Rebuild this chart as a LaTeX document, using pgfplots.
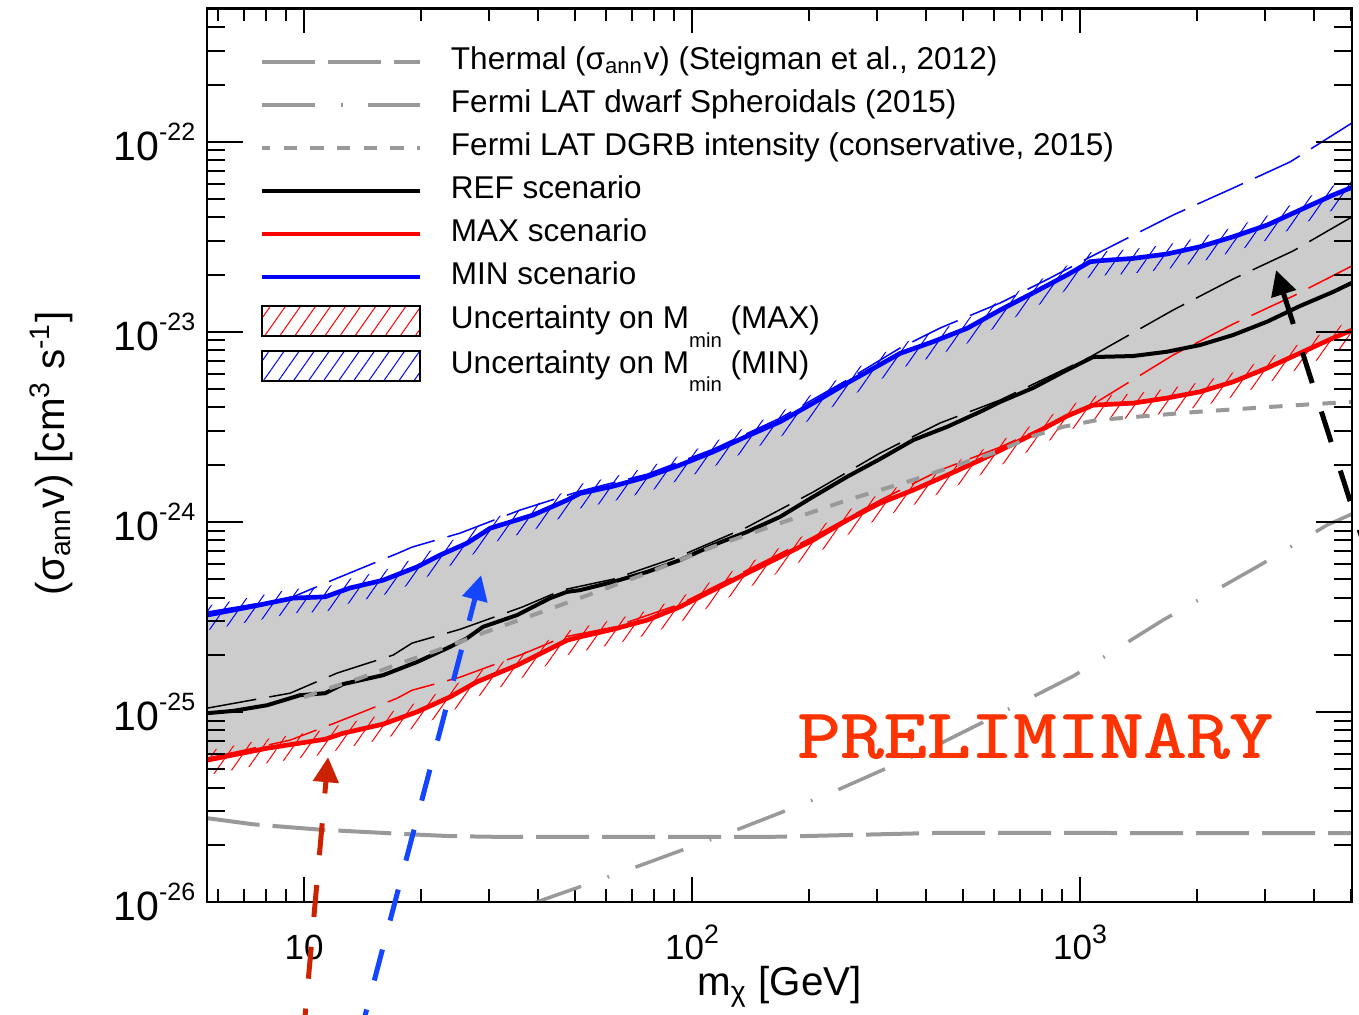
\documentclass[border=0pt]{standalone}
\usepackage{fontspec}
\setmainfont{Liberation Sans}
\usepackage{pgfplots}
\usepackage{pgfplotstable}
\pgfplotsset{compat=1.18}
\usepgfplotslibrary{fillbetween}
\usetikzlibrary{patterns.meta,arrows.meta}

\definecolor{lgray}{RGB}{153,153,153}
\definecolor{bandgray}{RGB}{204,204,204}
\definecolor{prelimred}{RGB}{255,51,0}
\definecolor{arrred}{RGB}{204,34,0}
\definecolor{arrblue}{RGB}{20,70,255}

\newcommand\xsup[1]{\raisebox{5pt}{\fontsize{8}{9}\selectfont #1}}
\newcommand\ysup[1]{\raisebox{6pt}{\fontsize{7.5}{8}\selectfont #1}}
\newcommand\msub[1]{\raisebox{-5.5pt}{\fontsize{6.1}{7}\selectfont #1}}
\newcommand\prelimtext{\scalebox{1.2}[1.0]{\fontsize{21}{24}\selectfont\ttfamily PRELIMINARY}}
\tikzset{hatchp/.style={pattern={Lines[angle=55,distance=3.7pt,line width=0.3pt]}}}

% MIN scenario (blue)
\pgfplotstableread{
x y
5.62 3.23e-25
7.26 3.57e-25
9.37 3.97e-25
11.33 4.03e-25
13.1 4.48e-25
15.98 4.93e-25
19.55 5.79e-25
22.4 6.68e-25
26.3 7.72e-25
30.2 9.26e-25
38.9 1.085e-24
47.6 1.30e-24
51.4 1.41e-24
62.6 1.54e-24
76.6 1.725e-24
93.1 1.99e-24
113.3 2.335e-24
138.7 2.825e-24
168.6 3.36e-24
205 4.21e-24
250.9 5.37e-24
343.7 7.69e-24
417.9 8.86e-24
511.4 1.042e-23
622 1.30e-23
756.7 1.60e-23
925.8 1.99e-23
1061 2.335e-23
1126 2.365e-23
1369 2.43e-23
1676 2.565e-23
2038 2.80e-23
2480 3.16e-23
3034 3.64e-23
3690 4.37e-23
4489 5.24e-23
5023 5.75e-23
}\minT

% REF scenario (black)
\pgfplotstableread{
x y
5.62 9.84e-26
6.56 1.012e-25
8.03 1.084e-25
9.77 1.224e-25
11.33 1.254e-25
12.6 1.40e-25
15.98 1.56e-25
19.55 1.83e-25
23.8 2.20e-25
26.3 2.44e-25
28.9 2.80e-25
35.4 3.23e-25
43.1 3.97e-25
47.6 4.28e-25
51.4 4.37e-25
62.6 4.83e-25
76.6 5.45e-25
93.1 6.29e-25
113.3 7.54e-25
138.7 8.86e-25
168.6 1.062e-24
205 1.353e-24
250.9 1.725e-24
305.2 2.14e-24
371.2 2.69e-24
454.2 3.16e-24
552.5 3.79e-24
622 4.27e-24
756.7 5.06e-24
925.8 6.29e-24
1080 7.36e-24
1369 7.45e-24
1676 7.85e-24
2038 8.51e-24
2480 9.61e-24
3034 1.129e-23
3690 1.366e-23
4489 1.62e-23
5023 1.81e-23
}\refT

% MAX scenario (red)
\pgfplotstableread{
x y
5.62 5.57e-26
8.03 6.44e-26
11.33 7.18e-26
12.6 7.72e-26
15.98 8.62e-26
19.55 1.0e-25
23.8 1.20e-25
27.9 1.44e-25
35.4 1.76e-25
47.6 2.38e-25
51.4 2.48e-25
62.6 2.72e-25
76.6 3.04e-25
93.1 3.57e-25
113.3 4.37e-25
138.7 5.37e-25
168.6 6.54e-25
205 8.01e-25
250.9 1.02e-24
305.2 1.254e-24
371.2 1.468e-24
454.2 1.76e-24
552.5 2.11e-24
672 2.565e-24
756.7 2.89e-24
925.8 3.60e-24
1080 4.11e-24
1369 4.21e-24
1676 4.48e-24
2038 4.83e-24
2480 5.45e-24
3034 6.44e-24
3690 7.72e-24
4489 9.26e-24
5023 1.02e-23
}\maxT

% thin dashed companions
\pgfplotstableread{
x y
5.62 1.046e-25
9.2 1.254e-25
12.16 1.60e-25
16.96 1.99e-25
18.98 2.30e-25
25.24 2.72e-25
36.5 3.56e-25
46.2 4.37e-25
62.6 4.99e-25
93.1 6.60e-25
138.7 9.38e-25
205 1.433e-24
305.2 2.30e-24
435.8 3.31e-24
622 4.37e-24
837 5.84e-24
1061 7.36e-24
1737 1.30e-23
2480 1.894e-23
3540 2.66e-23
5023 4.02e-23
}\refD

\pgfplotstableread{
x y
5.62 5.70e-26
9.2 7.10e-26
12.16 8.83e-26
17.37 1.18e-25
18.98 1.30e-25
25.24 1.523e-25
36.5 2.01e-25
46.5 2.47e-25
62.6 2.79e-25
93.1 3.69e-25
138.7 5.57e-25
205 8.31e-25
305.2 1.30e-24
435.8 1.87e-24
622 2.47e-24
1061 4.06e-24
1737 7.54e-24
2480 1.098e-23
3540 1.54e-23
5023 2.22e-23
}\maxD

\pgfplotstableread{
x y
5.62 3.35e-25
9.2 3.97e-25
12.16 5.05e-25
17.47 6.84e-25
18.98 7.36e-25
25.24 8.72e-25
36.0 1.152e-24
51.4 1.45e-24
76.6 1.78e-24
113.3 2.41e-24
168.6 3.51e-24
250.9 5.57e-24
343.7 8.21e-24
435.8 1.046e-23
622 1.416e-23
837 1.917e-23
1061 2.47e-23
1737 4.11e-23
2480 5.70e-23
3477 7.82e-23
5023 1.254e-22
}\minD

% Fermi LAT DGRB
\pgfplotstableread{
x y
10 1.195e-25
11.88 1.353e-25
13.94 1.505e-25
17.68 1.80e-25
21.5 2.07e-25
25.24 2.335e-25
28.9 2.60e-25
38.9 3.23e-25
52.4 4.03e-25
76.6 5.37e-25
113.3 7.39e-25
168.6 9.84e-25
250.9 1.30e-24
371.2 1.66e-24
499.4 2.04e-24
611 2.335e-24
756.7 2.825e-24
904 3.16e-24
1106 3.43e-24
2002 3.79e-24
3625 4.11e-24
5023 4.28e-24
}\dgrbT

% Thermal
\pgfplotstableread{
x y
5.62 2.76e-26
7.41 2.56e-26
11.03 2.40e-26
18.76 2.27e-26
23.8 2.22e-26
32.0 2.20e-26
158.9 2.20e-26
435.8 2.31e-26
5023 2.30e-26
}\thermT

% Fermi LAT dSph
\pgfplotstableread{
x y
38.9 9.84e-27
68.0 1.468e-26
123.8 2.30e-26
224.1 3.69e-26
403.4 6.29e-26
562.3 8.83e-26
959.4 1.54e-25
1636 3.04e-25
2910 5.92e-25
4331 9.61e-25
5023 1.10e-24
}\dsphT

\begin{document}
\begin{tikzpicture}
\begin{axis}[
  name=A,
  scale only axis, width=343.5pt, height=268.1pt,
  xmode=log, ymode=log,
  xmin=5.62, xmax=5023, ymin=1e-26, ymax=5.03e-22,
  xtick={10,100,1000},
  xticklabels={10,10\xsup{2},10\xsup{3}},
  minor xtick={6,7,8,9,20,30,40,50,60,70,80,90,200,300,400,500,600,700,800,900,2000,3000,4000,5000},
  ytick=\empty,
  major tick length=7.5pt, minor tick length=3.8pt,
  tick style={black, line width=0.6pt},
  axis line style={line width=0.8pt},
  xticklabel style={font=\fontsize{10.5}{12}\selectfont, anchor=base, yshift=-17.4pt},
  xlabel={m\textsubscript{χ} [GeV]},
  xlabel style={font=\fontsize{12.1}{14}\selectfont, at={(axis description cs:0.5,-0.105)}, anchor=base},
  legend style={draw=none, fill=none, at={(0.0463,0.9564)}, anchor=north west,
    inner sep=0pt, outer sep=0pt, font=\fontsize{9.45}{11}\selectfont,
    row sep=3.9pt, column sep=8.7pt,
    nodes={inner sep=0pt, text height=6.8pt, text depth=2.2pt}},
  legend cell align=left,
  legend image code/.code={\draw[#1] (0pt,0pt) -- (47.4pt,0pt);},
]
\addlegendimage{lgray, line width=1.2pt, dash pattern=on 15.9pt off 3.9pt}
\addlegendentry{Thermal (σ\textsubscript{ann}v) (Steigman et al., 2012)}
\addlegendimage{lgray, line width=1.1pt, dash pattern=on 15.9pt off 7.8pt on 0.6pt off 7.5pt}
\addlegendentry{Fermi LAT dwarf Spheroidals (2015)}
\addlegendimage{lgray, line width=1.2pt, dash pattern=on 4pt off 4pt, dash phase=1.5pt}
\addlegendentry{Fermi LAT DGRB intensity (conservative, 2015)}
\addlegendimage{black, line width=1.2pt}
\addlegendentry{REF scenario}
\addlegendimage{red, line width=1.2pt}
\addlegendentry{MAX scenario}
\addlegendimage{blue, line width=1.2pt}
\addlegendentry{MIN scenario}
\addlegendimage{legend image code/.code={\draw[hatchp,pattern color=red,draw=black,line width=0.5pt] (0pt,-4.5pt) rectangle (47.4pt,4.5pt);}}
\addlegendentry{Uncertainty on M\msub{min} (MAX)}
\addlegendimage{legend image code/.code={\draw[hatchp,pattern color=blue,draw=black,line width=0.5pt] (0pt,-4.5pt) rectangle (47.4pt,4.5pt);}}
\addlegendentry{Uncertainty on M\msub{min} (MIN)}

% band paths
\addplot[draw=none, name path=minP] table[x=x,y=y] {\minT};
\addplot[draw=none, name path=maxP] table[x=x,y=y] {\maxT};
\addplot[bandgray, draw=none] fill between[of=minP and maxP];
% hatched uncertainty bands
\addplot[draw=none, name path=bu] table[x=x, y expr=\thisrow{y}*1.12] {\minT};
\addplot[draw=none, name path=bl] table[x=x, y expr=\thisrow{y}/1.2] {\minT};
\addplot[draw=none, name path=ru] table[x=x, y expr=\thisrow{y}*1.12] {\maxT};
\addplot[draw=none, name path=rl] table[x=x, y expr=\thisrow{y}/1.2] {\maxT};
\addplot[draw=none, hatchp, pattern color=blue] fill between[of=bu and bl];
\addplot[draw=none, hatchp, pattern color=red] fill between[of=ru and rl];

% thin dashed companions
\addplot[black, line width=0.45pt, dash pattern=on 15pt off 4pt] table[x=x,y=y] {\refD};
\addplot[red, line width=0.45pt, dash pattern=on 15pt off 4pt] table[x=x,y=y] {\maxD};
\addplot[blue, line width=0.45pt, dash pattern=on 15pt off 4pt] table[x=x,y=y] {\minD};
% scenarios
\addplot[black, line width=1.2pt] table[x=x,y=y] {\refT};
\addplot[red, line width=1.4pt] table[x=x,y=y] {\maxT};
\addplot[blue, line width=1.4pt] table[x=x,y=y] {\minT};
% constraints
\addplot[lgray, line width=1.2pt, dash pattern=on 4pt off 4pt] table[x=x,y=y] {\dgrbT};
\addplot[lgray, line width=1.2pt, dash pattern=on 15.9pt off 3.9pt] table[x=x,y=y] {\thermT};
\addplot[lgray, line width=1.05pt, dash pattern=on 15.3pt off 8.4pt on 0.5pt off 8.4pt] table[x=x,y=y] {\dsphT};
\end{axis}

\begin{axis}[
  scale only axis, width=343.5pt, height=268.1pt,
  xmode=log, ymode=log,
  xmin=5.62, xmax=5023, ymin=1e-26, ymax=5.03e-22,
  xtick=\empty,
  ytick={1e-26,1e-25,1e-24,1e-23,1e-22},
  yticklabels={10\ysup{-26},10\ysup{-25},10\ysup{-24},10\ysup{-23},10\ysup{-22}},
  minor ytick={2e-26,3e-26,4e-26,5e-26,6e-26,7e-26,8e-26,9e-26,
    2e-25,3e-25,4e-25,5e-25,6e-25,7e-25,8e-25,9e-25,
    2e-24,3e-24,4e-24,5e-24,6e-24,7e-24,8e-24,9e-24,
    2e-23,3e-23,4e-23,5e-23,6e-23,7e-23,8e-23,9e-23,
    2e-22,3e-22,4e-22},
  major tick length=10.8pt, minor tick length=5.4pt,
  tick style={black, line width=0.6pt},
  axis line style={line width=0.8pt},
  yticklabel style={font=\fontsize{12.3}{14}\selectfont},
  ylabel={(σ\textsubscript{ann}v) [cm\textsuperscript{3} s\textsuperscript{-1}]},
  ylabel style={font=\fontsize{12.1}{14}\selectfont, at={(axis description cs:-0.136,0.502)}, anchor=center},
  clip=false,
]
\coordinate (bbsw) at (rel axis cs:0,0);
\coordinate (bbne) at (rel axis cs:1,1);
\node[prelimred, inner sep=0pt, anchor=center] at (axis cs:765.6,7.36e-26) {\prelimtext};
\node[prelimred, inner sep=0pt, anchor=center, xshift=0.35pt] at (axis cs:765.6,7.36e-26) {\prelimtext};
\node[prelimred, inner sep=0pt, anchor=center, yshift=0.3pt, xshift=0.15pt] at (axis cs:765.6,7.36e-26) {\prelimtext};
\draw[arrred, line width=1.5pt, dash pattern=on 9.6pt off 9pt, -{Triangle[length=7.5pt,width=7.5pt]}] (axis cs:9.93,1.87e-27) -- (axis cs:11.53,5.78e-26);
\draw[arrblue, line width=1.5pt, dash pattern=on 9.6pt off 9pt, -{Triangle[length=7.5pt,width=7.5pt]}] (axis cs:13.81,1.87e-27) -- (axis cs:28.6,5.24e-25);
\draw[black, line width=1.5pt, dash pattern=on 9.6pt off 9pt, -{Triangle[length=7.5pt,width=7.5pt]}] (axis cs:5557,6.29e-25) -- (axis cs:3201,2.11e-23);
\end{axis}
\pgfresetboundingbox
\path ([xshift=-62.1pt,yshift=-33.9pt]bbsw) rectangle ([xshift=2.1pt,yshift=2.5pt]bbne);
\end{tikzpicture}
\end{document}
